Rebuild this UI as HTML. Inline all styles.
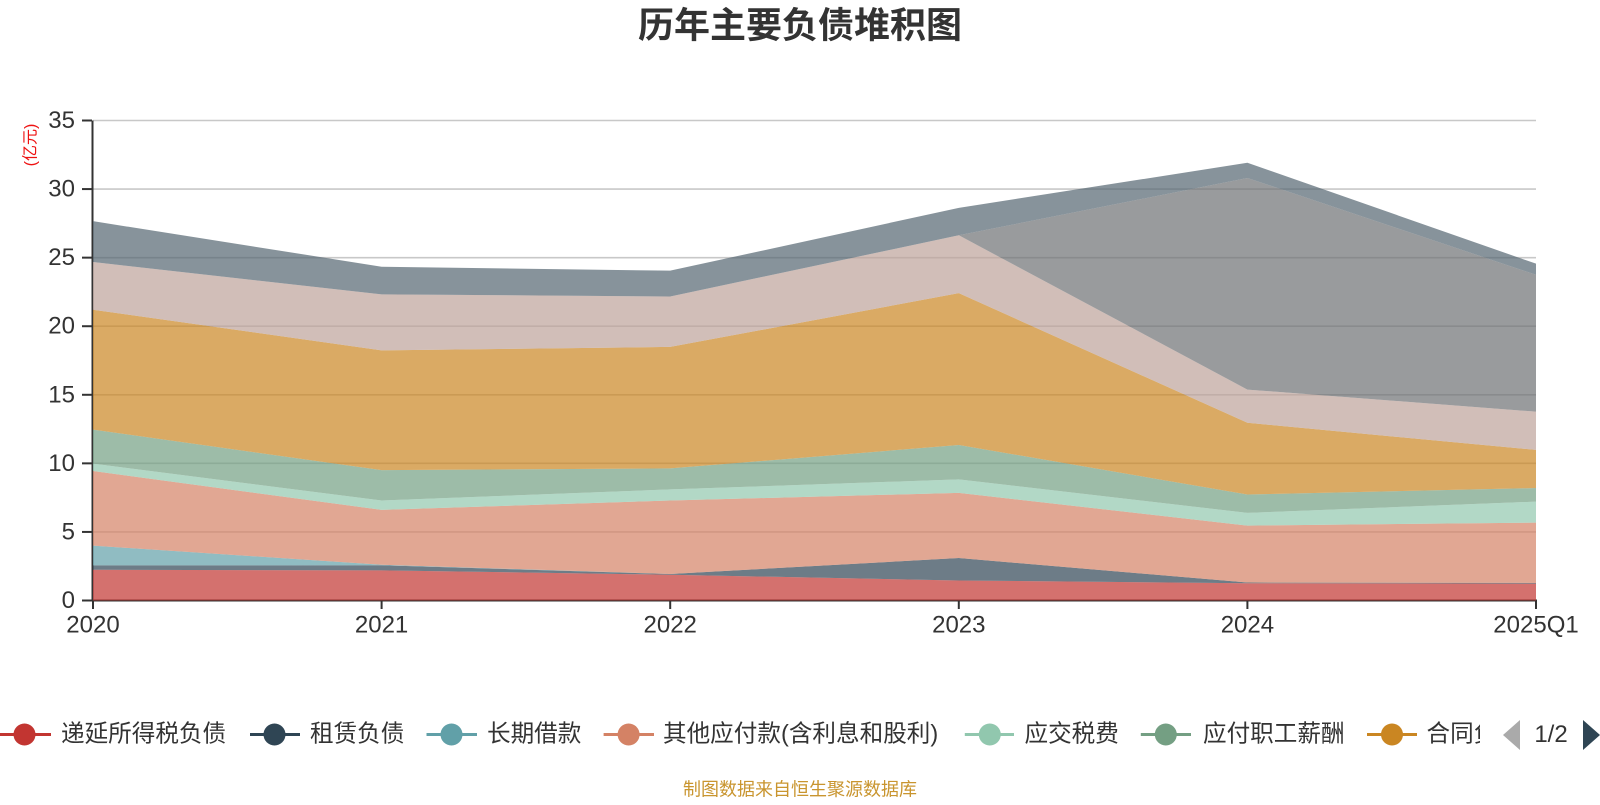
<!DOCTYPE html>
<html>
<head>
<meta charset="utf-8">
<style>
  html, body { margin:0; padding:0; background:#fff; }
  body { width:1600px; height:800px; overflow:hidden; }
  svg text { font-family: "Liberation Sans", "Noto Sans CJK SC", sans-serif; }
</style>
</head>
<body>
<svg width="1600" height="800" viewBox="0 0 1600 800" xmlns="http://www.w3.org/2000/svg">
  <defs>
    <clipPath id="legclip"><rect x="0" y="700" width="1480" height="70"/></clipPath>
  </defs>
  <rect width="1600" height="800" fill="#fff"/>

  <!-- Title -->
  <text x="800" y="25" text-anchor="middle" dominant-baseline="central" font-size="36" font-weight="bold" fill="#333">历年主要负债堆积图</text>

  <!-- Gridlines -->
  <g stroke="#c8c8c8" stroke-width="1.6">
    <line x1="93" y1="120.5" x2="1536" y2="120.5"/>
    <line x1="93" y1="189.07" x2="1536" y2="189.07"/>
    <line x1="93" y1="257.64" x2="1536" y2="257.64"/>
    <line x1="93" y1="326.22" x2="1536" y2="326.22"/>
    <line x1="93" y1="394.79" x2="1536" y2="394.79"/>
    <line x1="93" y1="463.36" x2="1536" y2="463.36"/>
    <line x1="93" y1="531.93" x2="1536" y2="531.93"/>
  </g>

  <!-- Axes -->
  <g stroke="#333" stroke-width="2">
    <line x1="92.5" y1="120.5" x2="92.5" y2="601"/>
    <line x1="92" y1="600.5" x2="1537" y2="600.5"/>
    <!-- y ticks -->
    <line x1="82" y1="120.5" x2="92" y2="120.5"/>
    <line x1="82" y1="189.07" x2="92" y2="189.07"/>
    <line x1="82" y1="257.64" x2="92" y2="257.64"/>
    <line x1="82" y1="326.22" x2="92" y2="326.22"/>
    <line x1="82" y1="394.79" x2="92" y2="394.79"/>
    <line x1="82" y1="463.36" x2="92" y2="463.36"/>
    <line x1="82" y1="531.93" x2="92" y2="531.93"/>
    <line x1="82" y1="600.5" x2="92" y2="600.5"/>
    <!-- x ticks -->
    <line x1="93" y1="600" x2="93" y2="609"/>
    <line x1="381.6" y1="600" x2="381.6" y2="609"/>
    <line x1="670.2" y1="600" x2="670.2" y2="609"/>
    <line x1="958.8" y1="600" x2="958.8" y2="609"/>
    <line x1="1247.4" y1="600" x2="1247.4" y2="609"/>
    <line x1="1536" y1="600" x2="1536" y2="609"/>
  </g>

  <!-- Stacked areas -->
  <g fill-opacity="0.7" stroke="none">
    <!-- L1 递延所得税负债 -->
    <polygon fill="#c23531" points="93,569.78 381.6,570.33 670.2,574.72 958.8,580.48 1247.4,583.22 1536,583.63 1536,600.5 93,600.5"/>
    <!-- L2 租赁负债 -->
    <polygon fill="#2f4554" points="93,565.39 381.6,565.26 670.2,574.03 958.8,557.99 1247.4,582.53 1536,582.95 1536,583.63 1247.4,583.22 958.8,580.48 670.2,574.72 381.6,570.33 93,569.78"/>
    <!-- L3 长期借款 -->
    <polygon fill="#61a0a8" points="93,545.64 381.6,564.71 670.2,574.03 958.8,557.99 1247.4,582.53 1536,582.95 1536,582.95 1247.4,582.53 958.8,557.99 670.2,574.03 381.6,565.26 93,565.39"/>
    <!-- L4 其他应付款 -->
    <polygon fill="#d48265" points="93,471.04 381.6,509.85 670.2,500.52 958.8,492.85 1247.4,525.62 1536,522.6 1536,582.95 1247.4,582.53 958.8,557.99 670.2,574.03 381.6,564.71 93,545.64"/>
    <!-- L5 应交税费 -->
    <polygon fill="#91c7ae" points="93,463.63 381.6,500.52 670.2,489.42 958.8,479.41 1247.4,512.87 1536,501.62 1536,522.6 1247.4,525.62 958.8,492.85 670.2,500.52 381.6,509.85 93,471.04"/>
    <!-- L6 应付职工薪酬 -->
    <polygon fill="#749f83" points="93,429.62 381.6,470.08 670.2,468.43 958.8,444.98 1247.4,494.49 1536,488.05 1536,501.62 1247.4,512.87 958.8,479.41 670.2,489.42 381.6,500.52 93,463.63"/>
    <!-- L7 合同负债 -->
    <polygon fill="#ca8622" points="93,309.76 381.6,350.36 670.2,346.93 958.8,293.17 1247.4,422.77 1536,449.92 1536,488.05 1247.4,494.49 958.8,444.98 670.2,468.43 381.6,470.08 93,429.62"/>
    <!-- L8 -->
    <polygon fill="#bda29a" points="93,262.04 381.6,294.4 670.2,296.46 958.8,235.3 1247.4,389.58 1536,411.66 1536,449.92 1247.4,422.77 958.8,293.17 670.2,346.93 381.6,350.36 93,309.76"/>
    <!-- L9 -->
    <polygon fill="#6e7074" points="93,262.04 381.6,294.4 670.2,296.46 958.8,235.3 1247.4,177.97 1536,274.79 1536,411.66 1247.4,389.58 958.8,235.3 670.2,296.46 381.6,294.4 93,262.04"/>
    <!-- L10 -->
    <polygon fill="#546570" points="93,221.17 381.6,266.7 670.2,270.68 958.8,207.87 1247.4,162.75 1536,263.68 1536,274.79 1247.4,177.97 958.8,235.3 670.2,296.46 381.6,294.4 93,262.04"/>
  </g>

  <!-- Y labels -->
  <g font-size="24" fill="#333" text-anchor="end" dominant-baseline="central">
    <text x="75" y="120.5">35</text>
    <text x="75" y="189.07">30</text>
    <text x="75" y="257.64">25</text>
    <text x="75" y="326.22">20</text>
    <text x="75" y="394.79">15</text>
    <text x="75" y="463.36">10</text>
    <text x="75" y="531.93">5</text>
    <text x="75" y="600.5">0</text>
  </g>

  <!-- Y axis name -->
  <text x="0" y="0" transform="translate(31,145) rotate(-90)" text-anchor="middle" dominant-baseline="central" font-size="16" fill="#ee1111">(亿元)</text>

  <!-- X labels -->
  <g font-size="24" fill="#333" text-anchor="middle" dominant-baseline="central">
    <text x="93" y="625">2020</text>
    <text x="381.6" y="625">2021</text>
    <text x="670.2" y="625">2022</text>
    <text x="958.8" y="625">2023</text>
    <text x="1247.4" y="625">2024</text>
    <text x="1536" y="625">2025Q1</text>
  </g>

  <!-- Legend -->
  <g clip-path="url(#legclip)">
    <g stroke-width="3">
      <line x1="0" y1="734.5" x2="51" y2="734.5" stroke="#c23531"/>
      <line x1="250" y1="734.5" x2="300" y2="734.5" stroke="#2f4554"/>
      <line x1="426.5" y1="734.5" x2="477" y2="734.5" stroke="#61a0a8"/>
      <line x1="603.6" y1="734.5" x2="654" y2="734.5" stroke="#d48265"/>
      <line x1="964.8" y1="734.5" x2="1014" y2="734.5" stroke="#91c7ae"/>
      <line x1="1140.8" y1="734.5" x2="1191" y2="734.5" stroke="#749f83"/>
      <line x1="1367" y1="734.5" x2="1417" y2="734.5" stroke="#ca8622"/>
    </g>
    <circle cx="24.5" cy="734.5" r="11" fill="#c23531"/>
    <circle cx="274.5" cy="734.5" r="11" fill="#2f4554"/>
    <circle cx="451.5" cy="734.5" r="11" fill="#61a0a8"/>
    <circle cx="628.6" cy="734.5" r="11" fill="#d48265"/>
    <circle cx="989.8" cy="734.5" r="11" fill="#91c7ae"/>
    <circle cx="1165.8" cy="734.5" r="11" fill="#749f83"/>
    <circle cx="1392" cy="734.5" r="11" fill="#ca8622"/>
    <g font-size="23.6" fill="#333" dominant-baseline="central">
      <text x="61" y="734.5">递延所得税负债</text>
      <text x="310" y="734.5">租赁负债</text>
      <text x="487" y="734.5">长期借款</text>
      <text x="663" y="734.5">其他应付款(含利息和股利)</text>
      <text x="1024.5" y="734.5">应交税费</text>
      <text x="1203" y="734.5">应付职工薪酬</text>
      <text x="1426.5" y="734.5">合同负债</text>
    </g>
  </g>

  <!-- Legend pager -->
  <polygon points="1520,720 1520,750 1503,735" fill="#aaaaaa"/>
  <text x="1551" y="734.5" font-size="24" fill="#333" text-anchor="middle" dominant-baseline="central">1/2</text>
  <polygon points="1583,720 1583,750 1600,735" fill="#2f4554"/>

  <!-- Footer -->
  <text x="800" y="789.5" font-size="18" fill="#c9952f" text-anchor="middle" dominant-baseline="central">制图数据来自恒生聚源数据库</text>
</svg>
</body>
</html>
